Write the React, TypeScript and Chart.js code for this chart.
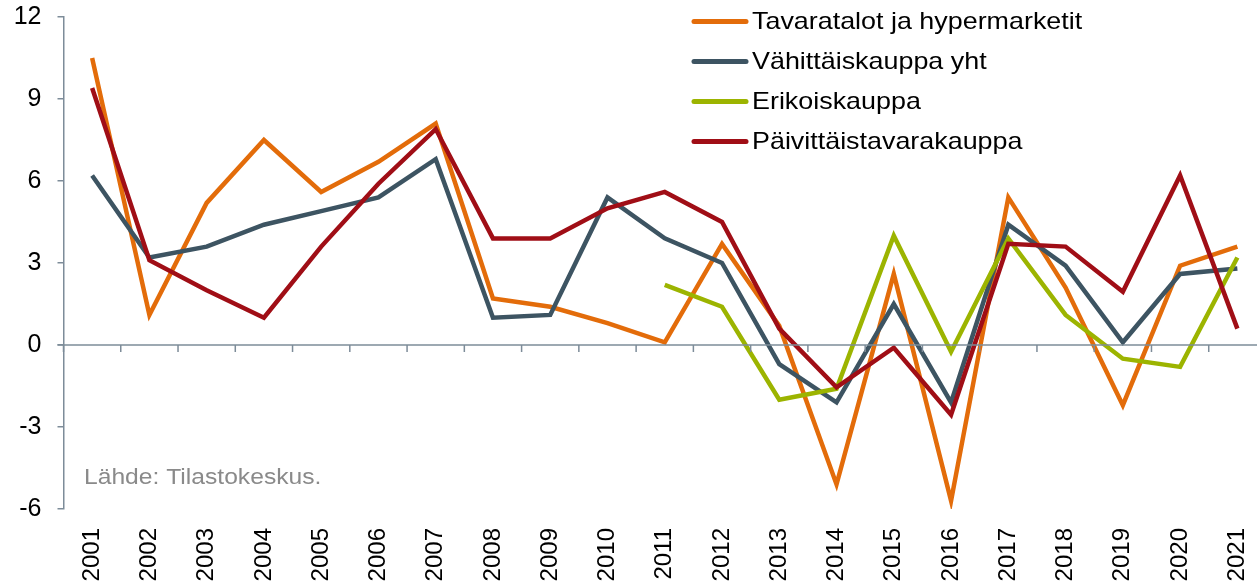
import React, { useEffect, useRef } from "react";
import { Chart, registerables } from "chart.js";

Chart.register(...registerables);

const years = ["2001","2002","2003","2004","2005","2006","2007","2008","2009","2010","2011","2012","2013","2014","2015","2016","2017","2018","2019","2020","2021"];
const tavaratalot = [10.5, 1.1, 5.2, 7.5, 5.6, 6.7, 8.1, 1.7, 1.4, 0.8, 0.1, 3.7, 0.7, -5.1, 2.6, -5.7, 5.4, 2.1, -2.2, 2.9, 3.6];
const vahittais = [6.2, 3.2, 3.6, 4.4, 4.9, 5.4, 6.8, 1.0, 1.1, 5.4, 3.9, 3.0, -0.7, -2.1, 1.5, -2.1, 4.4, 2.9, 0.1, 2.6, 2.8];
const erikois = [null, null, null, null, null, null, null, null, null, null, 2.2, 1.4, -2.0, -1.6, 4.0, -0.25, 3.9, 1.1, -0.5, -0.8, 3.2];
const paivittais = [9.4, 3.1, 2.0, 1.0, 3.6, 5.9, 7.9, 3.9, 3.9, 5.0, 5.6, 4.5, 0.6, -1.55, -0.1, -2.55, 3.7, 3.6, 1.95, 6.2, 0.6];
const seriesNames = ["Tavaratalot ja hypermarketit", "Vähittäiskauppa yht", "Erikoiskauppa", "Päivittäistavarakauppa"];
const seriesColors = ["#E36C0A", "#3D5462", "#9CB400", "#A00E16"];
const yTicks = [-6, -3, 0, 3, 6, 9, 12];
const sourceNote = "Lähde: Tilastokeskus.";

const AXIS = "#7D8C99";
const FONT = "'Liberation Sans', Arial, sans-serif";

const overlayPlugin = {
  id: "overlay",
  afterDatasetsDraw(chart: any) {
    const ctx = chart.ctx;
    const x = chart.scales.x;
    const y = chart.scales.y;
    const y0 = y.getPixelForValue(0);
    ctx.save();
    ctx.strokeStyle = AXIS;
    ctx.lineWidth = 1.5;
    ctx.beginPath();
    ctx.moveTo(chart.chartArea.left - 6, y0);
    ctx.lineTo(chart.width, y0);
    ctx.stroke();
    ctx.beginPath();
    for (let i = 0; i <= years.length; i++) {
      const px = x.getPixelForValue(i - 0.5);
      ctx.moveTo(px, y0);
      ctx.lineTo(px, y0 + 7);
    }
    ctx.stroke();
    ctx.restore();
  },
  afterDraw(chart: any) {
    const ctx = chart.ctx;
    const stretch = 1.12;
    ctx.save();
    const ds = chart.data.datasets;
    const lx0 = 694, lx1 = 746, tx = 752;
    for (let i = 0; i < ds.length; i++) {
      const yy = 21.5 + i * 40;
      ctx.strokeStyle = ds[i].borderColor;
      ctx.lineWidth = 5;
      ctx.lineCap = "round";
      ctx.beginPath();
      ctx.moveTo(lx0, yy);
      ctx.lineTo(lx1, yy);
      ctx.stroke();
      ctx.save();
      ctx.translate(tx, yy);
      ctx.scale(stretch, 1);
      ctx.fillStyle = "#000";
      ctx.font = `24px ${FONT}`;
      ctx.textBaseline = "middle";
      ctx.textAlign = "left";
      ctx.fillText(ds[i].label, 0, 1);
      ctx.restore();
    }
    ctx.save();
    ctx.translate(84, 484);
    ctx.scale(stretch, 1);
    ctx.fillStyle = "#8A8A8A";
    ctx.font = `22px ${FONT}`;
    ctx.textBaseline = "alphabetic";
    ctx.fillText(sourceNote, 0, 0);
    ctx.restore();
    ctx.restore();
  },
};

export default function App() {
  const ref = useRef<HTMLCanvasElement | null>(null);
  useEffect(() => {
    if (!ref.current) return;
    const data = [tavaratalot, vahittais, erikois, paivittais];
    const chart = new Chart(ref.current, {
      type: "line",
      data: {
        labels: years,
        datasets: data.map((d, i) => ({
          label: seriesNames[i],
          data: d,
          borderColor: seriesColors[i],
          backgroundColor: seriesColors[i],
          borderWidth: 4.5,
          pointRadius: 0,
          tension: 0,
          fill: false,
          spanGaps: false,
          order: 3 - i,
        })),
      },
      options: {
        animation: false,
        responsive: true,
        maintainAspectRatio: false,
        layout: { padding: { top: 17, right: 4, left: 0, bottom: 0 } },
        plugins: { legend: { display: false }, tooltip: { enabled: false } },
        scales: {
          x: {
            type: "category",
            offset: true,
            border: { display: false },
            grid: { display: false, drawTicks: false },
            ticks: {
              autoSkip: false,
              minRotation: 90,
              maxRotation: 90,
              padding: 19,
              color: "#000",
              font: { family: FONT, size: 24 },
            },
            afterFit: (s: any) => {
              s.height = 78;
              s.paddingLeft = 0;
              s.paddingRight = 0;
              s.paddingTop = 0;
              s.paddingBottom = 0;
            },
          },
          y: {
            min: -6,
            max: 12,
            afterBuildTicks: (s: any) => { s.ticks = yTicks.map((v) => ({ value: v })); },
            border: { display: true, color: AXIS, width: 1.5 },
            grid: { display: true, drawOnChartArea: false, drawTicks: true, tickLength: 6, color: AXIS, lineWidth: 1.5 },
            ticks: {
              padding: 16,
              color: "#000",
              font: { family: FONT, size: 25 },
            },
            afterFit: (s: any) => {
              s.width = 63.5;
              s.paddingTop = 0;
              s.paddingBottom = 0;
              s.paddingLeft = 0;
              s.paddingRight = 0;
            },
          },
        },
      },
      plugins: [overlayPlugin],
    });
    return () => chart.destroy();
  }, []);
  return (
    <div style={{ position: "absolute", left: 0, top: 0, width: 1257, height: 587, overflow: "hidden", background: "#fff" }}>
      <div style={{ position: "relative", width: 1270, height: 587 }}>
        <canvas ref={ref} />
      </div>
    </div>
  );
}
